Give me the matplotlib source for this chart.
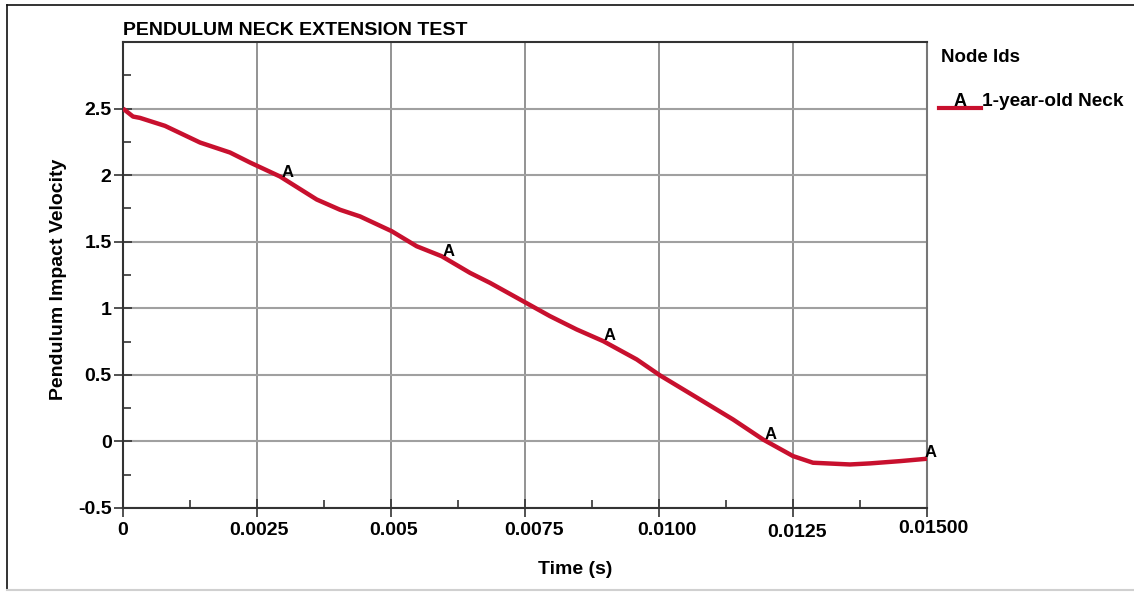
"""
Pendulum neck extension test: impact velocity vs time for one node.
"""

import matplotlib.pyplot as plt
import matplotlib.transforms as mtransforms
import numpy as np
from matplotlib.lines import Line2D

plt.rcParams["font.family"] = ["Liberation Sans", "DejaVu Sans"]
plt.rcParams["font.weight"] = "bold"

# data
time_s = [0.0, 0.000187, 0.000317, 0.000784, 0.001437, 0.001996, 0.002369,
          0.002929, 0.003614, 0.004049, 0.004422, 0.005013, 0.005479,
          0.005946, 0.006474, 0.006847, 0.007519, 0.007966, 0.008464,
          0.008961, 0.009584, 0.010019, 0.010765, 0.011381, 0.011940,
          0.012500, 0.012873, 0.013563, 0.013937, 0.014496, 0.015]
velocity = [2.50, 2.44, 2.43, 2.37, 2.245, 2.17, 2.095,
            1.99, 1.817, 1.74, 1.69, 1.579, 1.466,
            1.391, 1.266, 1.191, 1.041, 0.941, 0.841,
            0.753, 0.616, 0.496, 0.315, 0.165, 0.015,
            -0.11, -0.16, -0.173, -0.165, -0.148, -0.13]

marker_times = [0.003, 0.006, 0.009, 0.012, 0.015]
series_name = "1-year-old Neck"

x_ticks = [0, 0.0025, 0.005, 0.0075, 0.0100, 0.0125, 0.015]
x_labels = ["0", "0.0025", "0.005", "0.0075", "0.0100", "0.0125", "0.01500"]
# px nudges, the original tool places these a bit loosely
x_label_dx = [0, 2, 3, 9, 8, 4, 6]
x_label_dy = [0, 0, 0, 0, 0, -2, 2]
y_ticks = [-0.5, 0, 0.5, 1, 1.5, 2, 2.5]
y_labels = ["-0.5", "0", "0.5", "1", "1.5", "2", "2.5"]

RED = "#c8102e"
W, H = 1134, 592

fig = plt.figure(figsize=(W / 100, H / 100), dpi=100)
ax = fig.add_axes([123 / W, 1 - 508 / H, 804 / W, 466 / H])


def fig_line(xs, ys, **kw):
    # helper for lines placed in pixel coords on the figure
    fig.lines.append(Line2D([x / W for x in xs], [1 - y / H for y in ys],
                            transform=fig.transFigure, **kw))


# outer frame: dark top/left, light bottom
fig_line([7, W], [5, 5], color="#111111", lw=1.2)
fig_line([7, 7], [5, 590], color="#111111", lw=1.2)
fig_line([7, W], [590, 590], color="#d0d0d0", lw=1.5)

ax.plot(time_s, velocity, color=RED, lw=3.2, solid_capstyle="butt", zorder=3)

for t in marker_times:
    v = np.interp(t, time_s, velocity)
    ax.annotate("A", (t, v), xytext=(-2, -1), textcoords="offset pixels",
                fontsize=12, ha="left", va="bottom", zorder=4)

ax.set_xlim(0, 0.015)
ax.set_ylim(-0.5, 3.0)

ax.set_xticks(x_ticks)
ax.set_xticklabels(x_labels)
ax.set_yticks(y_ticks)
ax.set_yticklabels(y_labels)
ax.set_xticks(np.arange(0.00125, 0.015, 0.0025), minor=True)
ax.set_yticks(np.arange(-0.25, 3.0, 0.5), minor=True)

ax.tick_params(axis="both", which="major", direction="inout", length=12.5,
               width=1.2, color="#333333", labelsize=14)
ax.tick_params(axis="both", which="minor", direction="in", length=6,
               width=1.2, color="#333333")
ax.tick_params(axis="x", which="major", pad=4)
ax.tick_params(axis="y", which="major", pad=2)

for lbl, dx, dy in zip(ax.get_xticklabels(), x_label_dx, x_label_dy):
    lbl.set_transform(lbl.get_transform() +
                      mtransforms.ScaledTranslation(dx / 100, dy / 100,
                                                    fig.dpi_scale_trans))

ax.grid(True, which="major", axis="x", color="#808080", lw=1.2)
ax.grid(True, which="major", axis="y", color="#a0a0a0", lw=1.5)
ax.set_axisbelow(True)

for side in ("left", "bottom", "top"):
    ax.spines[side].set_color("#333333")
    ax.spines[side].set_linewidth(1.5)
ax.spines["right"].set_color("#777777")
ax.spines["right"].set_linewidth(1.5)

ax.set_xlabel("Time (s)", fontsize=14, fontweight="bold")
ax.xaxis.set_label_coords((575 - 123) / 804, (508 - 561) / 466)
ax.set_ylabel("Pendulum Impact Velocity", fontsize=14, fontweight="bold")
ax.yaxis.set_label_coords((67 - 123) / 804, 0.49)
ax.set_title("PENDULUM NECK EXTENSION TEST", fontsize=14, fontweight="bold",
             loc="left", pad=5)

# legend drawn by hand, as in the original tool
fig.text(941 / W, 1 - 57 / H, "Node Ids", fontsize=13.5, fontweight="bold",
         va="center", ha="left")
fig_line([939, 981], [108, 108], color=RED, lw=3)
fig.text(960 / W, 1 - 101 / H, "A", fontsize=13, fontweight="bold",
         va="center", ha="center")
fig.text(982 / W, 1 - 101 / H, series_name, fontsize=13.7, fontweight="bold",
         va="center", ha="left")

fig.savefig("out.png", dpi=100)
